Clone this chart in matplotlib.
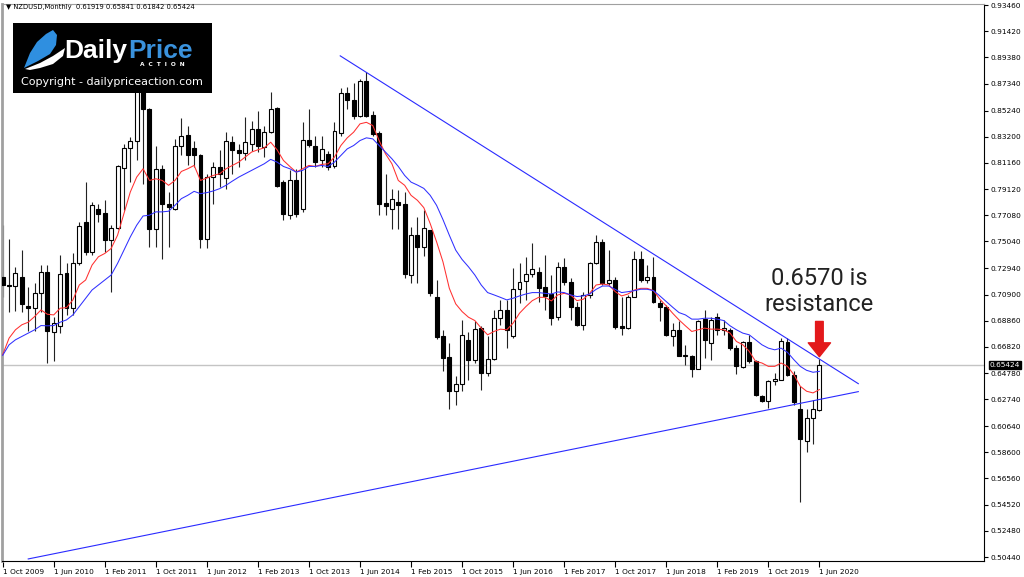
import numpy as np
import matplotlib
matplotlib.use('Agg')
import matplotlib.pyplot as plt
from matplotlib.patches import Rectangle, Polygon
from matplotlib.transforms import blended_transform_factory

# NZDUSD monthly candles, Oct 2009 .. Jun 2020
opens = [0.7229, 0.7164, 0.7156, 0.7229, 0.7001, 0.6983, 0.7099, 0.7268, 0.6797, 0.6841,
         0.7255, 0.6983, 0.7332, 0.7656, 0.7423, 0.7759, 0.7726, 0.7514, 0.7612, 0.8078,
         0.8230, 0.8290, 0.8700, 0.8536, 0.7604, 0.8070, 0.7798, 0.7759, 0.8251, 0.8334,
         0.8233, 0.8181, 0.7526, 0.8005, 0.8083, 0.8000, 0.8282, 0.8217, 0.8192, 0.8264,
         0.8381, 0.8243, 0.8355, 0.8544, 0.7967, 0.7708, 0.7980, 0.7760, 0.8298, 0.8251,
         0.8140, 0.8186, 0.8088, 0.8347, 0.8660, 0.8606, 0.8484, 0.8751, 0.8492, 0.8347,
         0.7803, 0.7759, 0.7811, 0.7798, 0.7242, 0.7552, 0.7462, 0.7596, 0.7074, 0.6763,
         0.6602, 0.6336, 0.6396, 0.6737, 0.6582, 0.6828, 0.6478, 0.6587, 0.6905, 0.6970,
         0.6763, 0.7131, 0.7196, 0.7247, 0.7268, 0.7151, 0.7094, 0.6913, 0.7307, 0.7190,
         0.6996, 0.6854, 0.7087, 0.7332, 0.7501, 0.7177, 0.7203, 0.6846, 0.6828, 0.7074,
         0.7363, 0.7203, 0.7229, 0.7027, 0.6996, 0.6768, 0.6815, 0.6610, 0.6613, 0.6510,
         0.6898, 0.6711, 0.6918, 0.6815, 0.6815, 0.6672, 0.6525, 0.6716, 0.6569, 0.6297,
         0.6258, 0.6413, 0.6427, 0.6716, 0.6465, 0.6200, 0.5948, 0.6129, 0.61919]
highs = [0.7630, 0.7521, 0.7306, 0.7436, 0.7151, 0.7177, 0.7319, 0.7319, 0.6918, 0.7397,
         0.7332, 0.7410, 0.7656, 0.7967, 0.7811, 0.7798, 0.7824, 0.7635, 0.8096, 0.8264,
         0.8316, 0.8843, 0.8810, 0.8540, 0.8251, 0.8096, 0.7889, 0.8303, 0.8466, 0.8401,
         0.8290, 0.8186, 0.8031, 0.8122, 0.8217, 0.8355, 0.8329, 0.8264, 0.8471, 0.8445,
         0.8523, 0.8406, 0.8671, 0.8549, 0.7980, 0.8057, 0.8070, 0.8432, 0.8536, 0.8329,
         0.8329, 0.8212, 0.8432, 0.8696, 0.8704, 0.8735, 0.8769, 0.8828, 0.8523, 0.8368,
         0.8031, 0.7915, 0.7902, 0.7889, 0.7617, 0.7695, 0.7746, 0.7596, 0.7203, 0.6815,
         0.6711, 0.6458, 0.6892, 0.6794, 0.6880, 0.6841, 0.6763, 0.6970, 0.7048, 0.7048,
         0.7293, 0.7332, 0.7379, 0.7493, 0.7306, 0.7397, 0.7242, 0.7345, 0.7371, 0.7216,
         0.7035, 0.7112, 0.7345, 0.7552, 0.7526, 0.7436, 0.7224, 0.7074, 0.7087, 0.7431,
         0.7431, 0.7319, 0.7384, 0.7048, 0.7009, 0.6867, 0.6880, 0.6698, 0.6621, 0.6893,
         0.6970, 0.6918, 0.6944, 0.6892, 0.6828, 0.6698, 0.6724, 0.6776, 0.6582, 0.6310,
         0.6427, 0.6478, 0.6750, 0.6750, 0.6491, 0.6375, 0.6199, 0.6271, 0.65841]
lows = [0.7074, 0.6957, 0.6962, 0.6957, 0.6802, 0.6807, 0.6957, 0.6556, 0.6569, 0.6789,
        0.6931, 0.6931, 0.7319, 0.7397, 0.7397, 0.7656, 0.7423, 0.7112, 0.7604, 0.7746,
        0.7967, 0.8135, 0.7954, 0.7462, 0.7462, 0.7366, 0.7462, 0.7746, 0.8174, 0.8096,
        0.8083, 0.7449, 0.7449, 0.7798, 0.7928, 0.7915, 0.8031, 0.8083, 0.8135, 0.8212,
        0.8199, 0.8161, 0.8347, 0.7928, 0.7674, 0.7682, 0.7695, 0.7734, 0.8238, 0.8083,
        0.8083, 0.8057, 0.8078, 0.8329, 0.8536, 0.8458, 0.8471, 0.8471, 0.8329, 0.7708,
        0.7708, 0.7604, 0.7604, 0.7216, 0.7177, 0.7182, 0.7389, 0.7079, 0.6742, 0.6491,
        0.6199, 0.6232, 0.6336, 0.6427, 0.6556, 0.6349, 0.6452, 0.6582, 0.6854, 0.6672,
        0.6750, 0.7022, 0.7048, 0.7229, 0.7035, 0.6970, 0.6854, 0.6892, 0.7164, 0.6892,
        0.6841, 0.6815, 0.7061, 0.7327, 0.7164, 0.7164, 0.6820, 0.6776, 0.6820, 0.7074,
        0.7190, 0.7177, 0.7022, 0.6880, 0.6768, 0.6685, 0.6608, 0.6543, 0.6446, 0.6510,
        0.6595, 0.6582, 0.6776, 0.6776, 0.6659, 0.6473, 0.6517, 0.6556, 0.6297, 0.6251,
        0.6206, 0.6388, 0.6427, 0.6452, 0.6232, 0.5469, 0.5864, 0.5922, 0.61842]
closes = [0.7164, 0.7156, 0.7255, 0.7014, 0.6983, 0.7099, 0.7262, 0.6802, 0.6867, 0.7249,
          0.6988, 0.7338, 0.7622, 0.7423, 0.7785, 0.7720, 0.7514, 0.7612, 0.8091, 0.8230,
          0.8290, 0.8740, 0.8536, 0.7604, 0.8065, 0.7798, 0.7772, 0.8251, 0.8329, 0.8174,
          0.8174, 0.7526, 0.8005, 0.8083, 0.8031, 0.8290, 0.8217, 0.8192, 0.8282, 0.8381,
          0.8251, 0.8360, 0.8536, 0.7933, 0.7721, 0.7980, 0.7715, 0.8298, 0.8259, 0.8122,
          0.8225, 0.8083, 0.8368, 0.8660, 0.8606, 0.8484, 0.8751, 0.8484, 0.8342, 0.7798,
          0.7777, 0.7837, 0.7790, 0.7250, 0.7552, 0.7462, 0.7612, 0.7099, 0.6758, 0.6595,
          0.6336, 0.6396, 0.6776, 0.6582, 0.6820, 0.6478, 0.6587, 0.6905, 0.6970, 0.6815,
          0.7131, 0.7190, 0.7247, 0.7285, 0.7138, 0.7079, 0.6905, 0.7307, 0.7190, 0.6991,
          0.6854, 0.7087, 0.7332, 0.7501, 0.7177, 0.7203, 0.6835, 0.6828, 0.7074, 0.7363,
          0.7203, 0.7224, 0.7035, 0.6996, 0.6776, 0.6815, 0.6613, 0.6618, 0.6510, 0.6880,
          0.6737, 0.6892, 0.6815, 0.6828, 0.6672, 0.6530, 0.6716, 0.6569, 0.6310, 0.6258,
          0.6413, 0.6432, 0.6724, 0.6465, 0.6251, 0.5961, 0.6129, 0.6199, 0.65424]

# moving averages as drawn on the chart (red = fast, blue = slow)
ma_fast = [0.6621, 0.6750, 0.6815, 0.6854, 0.6874, 0.6918, 0.6970, 0.6936, 0.6931, 0.6983,
           0.6988, 0.7048, 0.7164, 0.7203, 0.7319, 0.7384, 0.7410, 0.7449, 0.7552, 0.7721,
           0.7889, 0.8005, 0.8070, 0.7979, 0.7992, 0.7979, 0.7941, 0.7979, 0.8049, 0.8070,
           0.8096, 0.7979, 0.7998, 0.8018, 0.8031, 0.8070, 0.8096, 0.8122, 0.8161, 0.8200,
           0.8218, 0.8233, 0.8277, 0.8218, 0.8135, 0.8088, 0.8044, 0.8070, 0.8096, 0.8088,
           0.8104, 0.8109, 0.8161, 0.8251, 0.8311, 0.8355, 0.8420, 0.8432, 0.8407, 0.8290,
           0.8186, 0.8109, 0.7979, 0.7941, 0.7863, 0.7824, 0.7767, 0.7643, 0.7501, 0.7345,
           0.7138, 0.7017, 0.6957, 0.6913, 0.6887, 0.6828, 0.6776, 0.6802, 0.6820, 0.6815,
           0.6867, 0.6944, 0.6996, 0.7042, 0.7068, 0.7068, 0.7040, 0.7087, 0.7099, 0.7087,
           0.7042, 0.7053, 0.7099, 0.7164, 0.7172, 0.7164, 0.7112, 0.7079, 0.7094, 0.7125,
           0.7138, 0.7138, 0.7120, 0.7053, 0.7001, 0.6944, 0.6892, 0.6846, 0.6802, 0.6815,
           0.6828, 0.6820, 0.6820, 0.6815, 0.6789, 0.6724, 0.6698, 0.6647, 0.6569, 0.6556,
           0.6530, 0.6530, 0.6556, 0.6530, 0.6465, 0.6375, 0.6336, 0.6323, 0.6349]
ma_slow = [0.6616, 0.6698, 0.6737, 0.6763, 0.6789, 0.6815, 0.6848, 0.6846, 0.6848, 0.6874,
           0.6892, 0.6931, 0.6996, 0.7061, 0.7125, 0.7164, 0.7203, 0.7242, 0.7332, 0.7436,
           0.7539, 0.7630, 0.7702, 0.7708, 0.7734, 0.7734, 0.7739, 0.7785, 0.7837, 0.7863,
           0.7894, 0.7876, 0.7884, 0.7897, 0.7915, 0.7941, 0.7974, 0.8005, 0.8031, 0.8057,
           0.8083, 0.8109, 0.8143, 0.8122, 0.8088, 0.8070, 0.8044, 0.8057, 0.8088, 0.8088,
           0.8096, 0.8088, 0.8122, 0.8174, 0.8225, 0.8251, 0.8290, 0.8311, 0.8303, 0.8251,
           0.8200, 0.8148, 0.8088, 0.8018, 0.7966, 0.7943, 0.7917, 0.7863, 0.7785, 0.7674,
           0.7552, 0.7436, 0.7363, 0.7306, 0.7242, 0.7164, 0.7105, 0.7087, 0.7068, 0.7048,
           0.7061, 0.7079, 0.7094, 0.7105, 0.7105, 0.7099, 0.7094, 0.7110, 0.7105, 0.7087,
           0.7074, 0.7079, 0.7094, 0.7130, 0.7156, 0.7156, 0.7130, 0.7105, 0.7112, 0.7120,
           0.7131, 0.7131, 0.7120, 0.7079, 0.7035, 0.6991, 0.6949, 0.6931, 0.6898, 0.6898,
           0.6905, 0.6905, 0.6898, 0.6887, 0.6846, 0.6815, 0.6789, 0.6776, 0.6737, 0.6698,
           0.6672, 0.6659, 0.6672, 0.6639, 0.6582, 0.6530, 0.6499, 0.6484, 0.6491]

# trendlines drawn by hand (bar index, price)
upper_line_x = [52.9, 134.1]
upper_line_y = [0.8950, 0.6395]
lower_line_x = [4.0, 134.1]
lower_line_y = [0.5029, 0.6333]

last_price = 0.65424
resistance = 0.6570

xtick_pos = list(range(0, 129, 8))
xtick_labels = ['1 Oct 2009', '1 Jun 2010', '1 Feb 2011', '1 Oct 2011', '1 Jun 2012',
                '1 Feb 2013', '1 Oct 2013', '1 Jun 2014', '1 Feb 2015', '1 Oct 2015',
                '1 Jun 2016', '1 Feb 2017', '1 Oct 2017', '1 Jun 2018', '1 Feb 2019',
                '1 Oct 2019', '1 Jun 2020']
ytick_labels = ['0.93460', '0.91420', '0.89380', '0.87340', '0.85240', '0.83200', '0.81160',
                '0.79120', '0.77080', '0.75040', '0.72940', '0.70900', '0.68860', '0.66820',
                '0.64780', '0.62740', '0.60640', '0.58600', '0.56560', '0.54520', '0.52480',
                '0.50440']

W, H = 1024, 577
fig = plt.figure(figsize=(W / 100, H / 100), dpi=100)

def fpx(x, y):
    # pixel position -> figure fraction
    return x / W, 1 - y / H

ax_l, ax_r, ax_t, ax_b = 2, 984, 3.5, 561
ax = fig.add_axes([ax_l / W, 1 - ax_b / H, (ax_r - ax_l) / W, (ax_b - ax_t) / H])

x = np.arange(len(opens))
o = np.array(opens); c = np.array(closes)
up = c >= o

# wicks
ax.vlines(x, lows, highs, color='#222222', lw=0.8, zorder=2)
# bodies
ax.bar(x[up], (c - o)[up], bottom=o[up], width=0.62, color='white',
       edgecolor='black', linewidth=0.8, zorder=3)
ax.bar(x[~up], (o - c)[~up], bottom=c[~up], width=0.62, color='black',
       edgecolor='black', linewidth=0.8, zorder=3)

ax.plot(x, ma_fast, color='#ff3030', lw=0.75, zorder=4)
ax.plot(x, ma_slow, color='#3030ff', lw=0.75, zorder=4)
ax.plot(upper_line_x, upper_line_y, color='#2a2aff', lw=0.8, zorder=4)
ax.plot(lower_line_x, lower_line_y, color='#2a2aff', lw=0.8, zorder=4)
ax.axhline(last_price, color='#c4c4c4', lw=1, zorder=1)

# axis setup
ax.set_xlim(-0.11, 153.8)
ax.set_ylim(0.5013, 0.9358)
ax.yaxis.tick_right()
ax.set_yticks([float(v) for v in ytick_labels])
ax.set_yticklabels(ytick_labels)
ax.set_xticks(xtick_pos)
ax.set_xticklabels(xtick_labels, ha='left')
ax.tick_params(axis='y', length=3, width=0.8, pad=2, labelsize=5.3, colors='black')
ax.tick_params(axis='x', length=4, width=0.8, pad=2, labelsize=5.3)
for s in ['left', 'top']:
    ax.spines[s].set_color('#a0a0a0')
ax.spines['left'].set_linewidth(2)
ax.spines['right'].set_linewidth(0.8)
ax.spines['bottom'].set_linewidth(0.8)

# current price box on the right scale
trans = blended_transform_factory(ax.transAxes, ax.transData)
ax.text(1.006, last_price, '%.5f' % last_price, transform=trans, fontsize=5.3,
        color='white', va='center', ha='left',
        bbox=dict(boxstyle='square,pad=0.15', fc='black', ec='black'))

# annotation
ax.text(128, 0.7112, '%.4f is\nresistance' % resistance, fontsize=17, family='Roboto',
        color='#222222', ha='center', va='center', linespacing=1.2, zorder=6)
ax.annotate('', xy=(128, 0.6605), xytext=(128, 0.6880),
            arrowprops=dict(arrowstyle='simple,head_width=1.6,head_length=1.0,tail_width=0.55',
                            color='#e3191b', shrinkA=0, shrinkB=0, mutation_scale=10), zorder=6)

# header
fig.text(*fpx(6, 7), '\u25bc NZDUSD,Monthly  0.61919 0.65841 0.61842 0.65424',
         fontsize=4.9, va='center', ha='left')

# logo block
fig.add_artist(Rectangle(fpx(13, 93), 199 / W, 70 / H, transform=fig.transFigure,
                         facecolor='black', edgecolor='none', zorder=5))
blue_leaf = [fpx(*p) for p in [(24, 68), (30, 53), (37, 42), (46, 34), (53, 30),
                               (57, 35), (56, 45), (50, 54), (38, 61)]]
fig.add_artist(Polygon(blue_leaf, closed=True, transform=fig.transFigure,
                       facecolor='#2f8fe0', edgecolor='none', zorder=6))
white_swoosh = [fpx(*p) for p in [(25, 69), (40, 63), (53, 56), (65, 48), (63, 56),
                                  (53, 64), (40, 68), (30, 70)]]
fig.add_artist(Polygon(white_swoosh, closed=True, transform=fig.transFigure,
                       facecolor='white', edgecolor='none', zorder=6))
fig.text(*fpx(64, 51), 'Daily', fontsize=19, family='Liberation Sans', weight='bold',
         color='white', va='center', ha='left', zorder=7)
fig.text(*fpx(128, 51), 'Price', fontsize=19, family='Liberation Sans', weight='bold',
         color='#3a92dd', va='center', ha='left', zorder=7)
fig.text(*fpx(162, 64), 'A  C  T  I  O  N', fontsize=4.2, weight='bold',
         color='white', va='center', ha='center', zorder=7)
fig.text(*fpx(112, 82), 'Copyright - dailypriceaction.com', fontsize=8.0,
         family='DejaVu Sans', color='white', va='center', ha='center', zorder=7)

fig.savefig('out.png', dpi=100)
